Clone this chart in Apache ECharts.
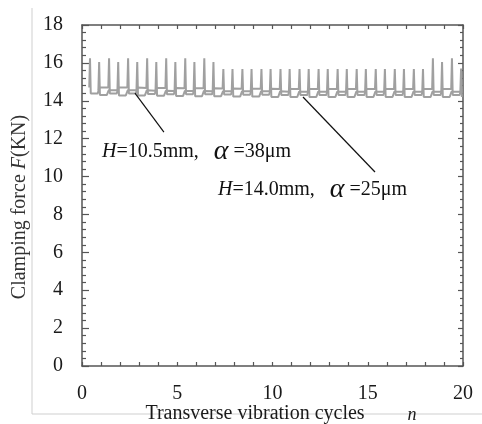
<!DOCTYPE html>
<html>
<head>
<meta charset="utf-8">
<script src="https://cdn.jsdelivr.net/npm/echarts@6/dist/echarts.min.js"></script>
<style>
  html, body { margin: 0; padding: 0; background: #fff; }
  #main { width: 482px; height: 424px; }
</style>
</head>
<body>
<div id="main"></div>
<script>
var chartDom = document.getElementById("main");
var myChart = echarts.init(chartDom, null, { renderer: "canvas" });

// spike positions (cycles) and levels
var spikeA = [0.42, 1.42, 2.42, 3.42, 4.42, 5.42, 6.42, 7.42, 8.42, 9.42, 10.42, 11.42, 12.42, 13.42, 14.42, 15.42, 16.42, 17.42, 18.42, 19.42];
var peakA = [16.25, 16.25, 16.25, 16.25, 16.25, 16.25, 16.25, 15.68, 15.68, 15.68, 15.68, 15.68, 15.68, 15.68, 15.68, 15.68, 15.68, 15.68, 16.25, 16.25];
var lowA = [14.38, 14.38, 14.38, 14.36, 14.35, 14.35, 14.34, 14.33, 14.32, 14.32, 14.3, 14.3, 14.3, 14.3, 14.3, 14.3, 14.3, 14.3, 14.3, 14.3];
var highA = [14.7, 14.7, 14.7, 14.68, 14.68, 14.66, 14.66, 14.65, 14.64, 14.64, 14.62, 14.62, 14.62, 14.62, 14.62, 14.62, 14.62, 14.62, 14.62, 14.62];

var spikeB = [0.9, 1.9, 2.9, 3.9, 4.9, 5.9, 6.9, 7.9, 8.9, 9.9, 10.9, 11.9, 12.9, 13.9, 14.9, 15.9, 16.9, 17.9, 18.9, 19.9];
var peakB = [16.05, 16.05, 16.05, 16.05, 16.05, 16.05, 16.05, 15.68, 15.68, 15.68, 15.68, 15.68, 15.68, 15.68, 15.68, 15.68, 15.68, 15.68, 16.05, 15.7];
var lowB = [14.3, 14.28, 14.28, 14.26, 14.25, 14.24, 14.24, 14.22, 14.22, 14.2, 14.2, 14.2, 14.2, 14.2, 14.2, 14.2, 14.2, 14.2, 14.2, 14.2];
var highB = [14.55, 14.55, 14.55, 14.53, 14.52, 14.52, 14.5, 14.5, 14.5, 14.5, 14.48, 14.48, 14.48, 14.48, 14.48, 14.48, 14.48, 14.48, 14.48, 14.48];

var xTicks = [0, 5, 10, 15, 20];
var yTicks = [0, 2, 4, 6, 8, 10, 12, 14, 16, 18];

// one spike per cycle: rise, peak, drop, flat low, step back up
function wave(spike, peak, low, high) {
  var pts = [];
  for (var i = 0; i < spike.length; i++) {
    var s = spike[i];
    pts.push([s - 0.04, high[i]]);
    pts.push([s, peak[i]]);
    pts.push([s + 0.04, low[i]]);
    if (s + 0.4 < 20) pts.push([s + 0.4, low[i]]);
    if (s + 0.5 < 20) pts.push([s + 0.5, high[i]]);
  }
  return pts;
}

var font = "Liberation Serif";
var axisCol = "#555";
var lineCol = "#a0a0a0";
var txtCol = "#1a1a1a";

var option = {
  backgroundColor: "#fff",
  animation: false,
  grid: { left: 82, right: 19, top: 25, bottom: 58 },
  xAxis: [
    {
      type: "value", min: xTicks[0], max: xTicks[xTicks.length - 1], interval: 5,
      axisLine: { show: true, onZero: false, lineStyle: { color: axisCol, width: 1.5 } },
      axisTick: { show: true, inside: true, length: 4, lineStyle: { color: axisCol, width: 1.2 } },
      minorTick: { show: true, splitNumber: 5, length: 4, lineStyle: { color: axisCol, width: 1.2 } },
      axisLabel: { fontFamily: font, fontSize: 20, color: txtCol, margin: 18 },
      splitLine: { show: false }
    },
    {
      type: "value", position: "top", min: 0, max: 20, interval: 1,
      axisLine: { show: true, onZero: false, lineStyle: { color: axisCol, width: 1.5 } },
      axisTick: { show: true, inside: true, length: 4, lineStyle: { color: axisCol, width: 1.2 } },
      axisLabel: { show: false },
      splitLine: { show: false }
    }
  ],
  yAxis: [
    {
      type: "value", min: yTicks[0], max: yTicks[yTicks.length - 1], interval: 2,
      axisLine: { show: true, onZero: false, lineStyle: { color: axisCol, width: 1.5 } },
      axisTick: { show: true, inside: true, length: 7, lineStyle: { color: axisCol, width: 1.2 } },
      minorTick: { show: true, splitNumber: 5, length: 4, lineStyle: { color: axisCol, width: 1.2 } },
      axisLabel: { fontFamily: font, fontSize: 20, color: txtCol, margin: 19 },
      splitLine: { show: false }
    },
    {
      type: "value", position: "right", min: 0, max: 18, interval: 2,
      axisLine: { show: true, onZero: false, lineStyle: { color: axisCol, width: 1.5 } },
      axisTick: { show: true, inside: true, length: 5, lineStyle: { color: axisCol, width: 1.2 } },
      minorTick: { show: true, splitNumber: 5, length: 3, lineStyle: { color: axisCol, width: 1.2 } },
      axisLabel: { show: false },
      splitLine: { show: false }
    }
  ],
  series: [
    {
      name: "H=10.5mm",
      type: "line",
      showSymbol: false,
      data: wave(spikeA, peakA, lowA, highA),
      lineStyle: { color: lineCol, width: 2 },
      markLine: {
        silent: true, symbol: "none", label: { show: false },
        lineStyle: { color: "#111", width: 1.2, type: "solid" },
        data: [[{ coord: [2.78, 14.4] }, { coord: [4.3, 12.35] }]]
      }
    },
    {
      name: "H=14.0mm",
      type: "line",
      showSymbol: false,
      data: wave(spikeB, peakB, lowB, highB),
      lineStyle: { color: lineCol, width: 2 },
      markLine: {
        silent: true, symbol: "none", label: { show: false },
        lineStyle: { color: "#111", width: 1.2, type: "solid" },
        data: [[{ coord: [11.6, 14.2] }, { coord: [15.38, 10.24] }]]
      }
    }
  ],
  graphic: [
    // light outer frame
    { type: "line", shape: { x1: 32, y1: 8, x2: 32, y2: 414 }, style: { stroke: "#cfcfcf", lineWidth: 1 } },
    { type: "line", shape: { x1: 32, y1: 414, x2: 482, y2: 414 }, style: { stroke: "#cfcfcf", lineWidth: 1 } },
    {
      type: "text", x: 20, y: 207, rotation: Math.PI / 2,
      style: {
        text: "Clamping force {i|F}(KN)", fill: "#333", font: "20px " + font,
        align: "center", verticalAlign: "middle",
        rich: { i: { fontStyle: "italic", fontFamily: font, fontSize: 20, fill: "#333" } }
      }
    },
    {
      type: "text", x: 255, y: 414,
      style: { text: "Transverse vibration cycles", fill: txtCol, font: "20px " + font, align: "center", verticalAlign: "middle" }
    },
    {
      type: "text", x: 412, y: 415,
      style: { text: "n", fill: txtCol, font: "italic 18px " + font, align: "center", verticalAlign: "middle" }
    },
    {
      type: "text", x: 102, y: 152,
      style: {
        text: "{i|H}=10.5mm,   {a|α} =38μm", fill: "#111", font: "20px " + font, verticalAlign: "middle",
        rich: {
          i: { fontStyle: "italic", fontFamily: font, fontSize: 20, fill: "#111" },
          a: { fontStyle: "italic", fontFamily: font, fontSize: 28, fill: "#111" }
        }
      }
    },
    {
      type: "text", x: 218, y: 190,
      style: {
        text: "{i|H}=14.0mm,   {a|α} =25μm", fill: "#111", font: "20px " + font, verticalAlign: "middle",
        rich: {
          i: { fontStyle: "italic", fontFamily: font, fontSize: 20, fill: "#111" },
          a: { fontStyle: "italic", fontFamily: font, fontSize: 28, fill: "#111" }
        }
      }
    }
  ]
};

option && myChart.setOption(option);
</script>
</body>
</html>
